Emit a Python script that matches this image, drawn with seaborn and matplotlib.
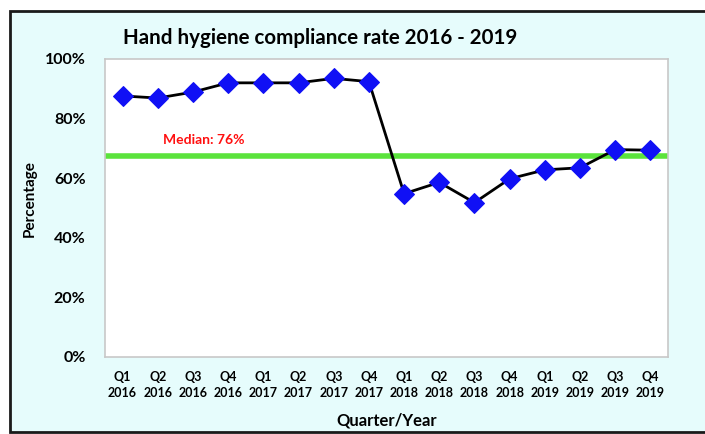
import numpy as np
import matplotlib
matplotlib.use('Agg')
import matplotlib.pyplot as plt
import seaborn as sns
from matplotlib.patches import Rectangle

quarters = ['Q1', 'Q2', 'Q3', 'Q4'] * 4
years = ['2016'] * 4 + ['2017'] * 4 + ['2018'] * 4 + ['2019'] * 4
compliance = [87.6, 86.9, 88.9, 92.0, 92.0, 92.0, 93.5, 92.4,
              54.8, 58.6, 51.8, 59.8, 62.8, 63.5, 69.6, 69.4]
median_line = 67.5
median_label = 'Median: 76%'

sns.set_theme(style='white')
plt.rcParams['font.family'] = ['Lato', 'DejaVu Sans']
plt.rcParams['text.color'] = 'black'
plt.rcParams['axes.labelcolor'] = 'black'
plt.rcParams['xtick.color'] = 'black'
plt.rcParams['ytick.color'] = 'black'

fig = plt.figure(figsize=(7.05, 4.34), dpi=100)
fig.patch.set_facecolor('white')
# outer chart frame, behind the axes
fig.patches.append(Rectangle((10 / 705, 2 / 434), 700 / 705, 421 / 434,
                             transform=fig.transFigure, facecolor='#E6FCFC',
                             edgecolor='#1a1a1a', linewidth=2, zorder=-5))

ax = fig.add_axes([105 / 705, 1 - 357 / 434, 563 / 705, 298 / 434])
ax.set_facecolor('white')

xpos = np.arange(len(compliance))
sns.lineplot(x=xpos, y=compliance, ax=ax, color='black', linewidth=2,
             marker='D', markersize=10, markerfacecolor='#1010F5',
             markeredgecolor='#1010F5', zorder=3)
ax.axhline(median_line, color='#5BE33C', linewidth=4, zorder=2)
ax.text(1.15, median_line + 3.2, median_label, color='#FF1010',
        fontsize=10, fontweight='bold', ha='left', va='bottom')

ax.set_xlim(-0.5, len(compliance) - 0.5)
ax.set_ylim(0, 100)
ax.set_yticks(range(0, 101, 20))
ax.set_yticklabels([f'{v}%' for v in range(0, 101, 20)],
                   fontsize=11.5, fontweight='bold')
ax.set_xticks(xpos)
ax.set_xticklabels([f'{q}\n{y}' for q, y in zip(quarters, years)],
                   fontsize=9, fontweight='bold', linespacing=1.45)
ax.tick_params(axis='y', length=0, pad=14)
ax.tick_params(axis='x', length=0, pad=10)
for s in ax.spines.values():
    s.set_color('#C8C8C8')
    s.set_linewidth(1.2)

ax.set_xlabel('Quarter/Year', fontsize=12, fontweight='bold')
ax.set_ylabel('Percentage', fontsize=11, fontweight='bold')
ax.xaxis.set_label_coords(0.5, -55 / 298)
ax.yaxis.set_label_coords(-68 / 563, 0.53)
fig.text(320 / 705, 1 - 38 / 434, 'Hand hygiene compliance rate 2016 - 2019',
         ha='center', va='center', fontsize=14.8, fontweight='bold')

fig.savefig('out.png', dpi=100)
